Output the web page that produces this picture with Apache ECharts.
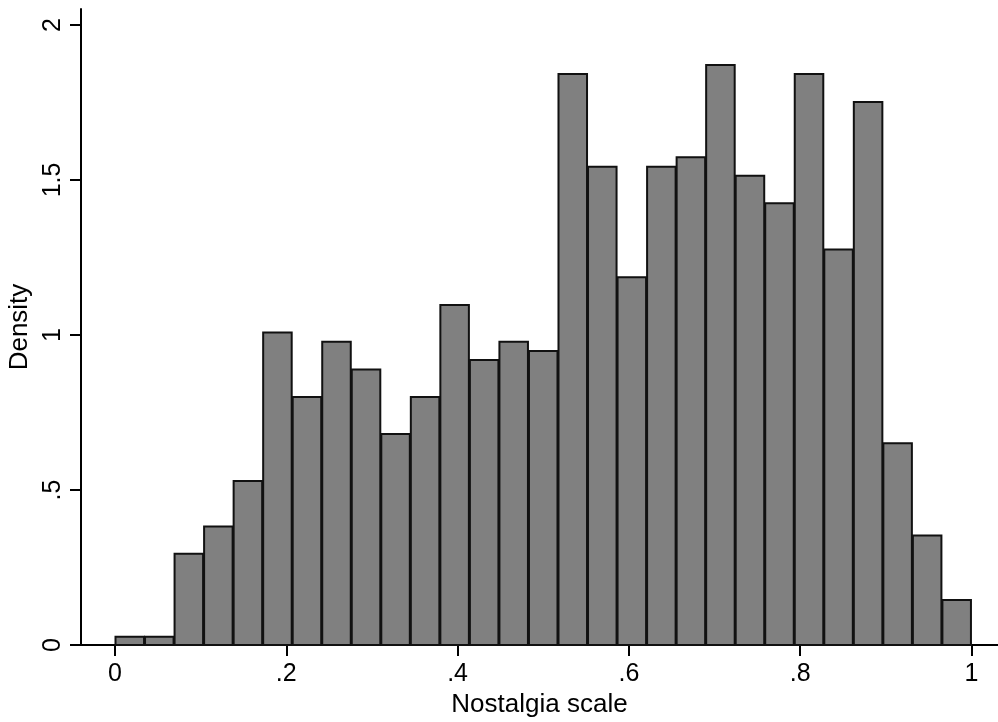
<!DOCTYPE html>
<html>
<head>
<meta charset="utf-8">
<script src="https://cdn.jsdelivr.net/npm/echarts@6/dist/echarts.min.js"></script>
<style>
  html, body { margin: 0; padding: 0; background: #fff; }
  #chart { width: 998px; height: 722px; }
</style>
</head>
<body>
<div id="chart"></div>
<script>
// histogram of the nostalgia scale, 29 equal bins over [0, 1]
const binCount = 29
const densities = [
  0.027, 0.027, 0.294, 0.382, 0.529, 1.008, 0.800, 0.978, 0.889, 0.681,
  0.800, 1.097, 0.919, 0.978, 0.948, 1.842, 1.543, 1.186, 1.543, 1.573,
  1.871, 1.514, 1.425, 1.842, 1.276, 1.752, 0.651, 0.353, 0.145
]
const xTicks = [0, 0.2, 0.4, 0.6, 0.8, 1]
const yTicks = [0, 0.5, 1, 1.5, 2]

const binWidth = 1 / binCount
const bins = densities.map((d, i) => [i * binWidth, (i + 1) * binWidth, d])

// stata style: drop the leading zero
function fmt(v) {
  let s = String(+v.toFixed(2))
  if (s.startsWith('0.')) s = s.slice(1)
  return s
}

const font = 'Liberation Sans, Arial, Helvetica, sans-serif'

const chart = echarts.init(document.getElementById('chart'), null, { renderer: 'canvas' })

chart.setOption({
  animation: false,
  backgroundColor: '#fff',
  grid: {
    left: 81,
    right: 0,
    top: 9,
    bottom: 77,
    containLabel: false,
    outerBoundsMode: 'none'
  },
  xAxis: [
    {
      type: 'value',
      min: -0.0397,
      max: 1.031,
      name: 'Nostalgia scale',
      nameLocation: 'middle',
      nameGap: 44,
      nameTextStyle: { fontFamily: font, fontSize: 26, color: '#000' },
      axisLine: { show: true, onZero: false, lineStyle: { color: '#000', width: 2 } },
      axisTick: { show: true, length: 11, customValues: xTicks, lineStyle: { color: '#000', width: 2 } },
      axisLabel: {
        customValues: xTicks,
        formatter: fmt,
        margin: 17,
        fontFamily: font,
        fontSize: 25,
        color: '#000'
      },
      splitLine: { show: false }
    },
    {
      type: 'value',
      position: 'top',
      min: 0,
      max: 1,
      axisLine: { show: true, lineStyle: { color: '#000', width: 2 } },
      axisTick: { show: false },
      axisLabel: { show: false },
      splitLine: { show: false }
    }
  ],
  yAxis: {
    type: 'value',
    min: 0,
    max: 2.0516,
    name: 'Density',
    nameLocation: 'middle',
    nameGap: 38,
    nameRotate: 90,
    nameTextStyle: { fontFamily: font, fontSize: 26, color: '#000' },
    axisLine: { show: true, onZero: false, lineStyle: { color: '#000', width: 2 } },
    axisTick: { show: true, length: 11, customValues: yTicks, lineStyle: { color: '#000', width: 2 } },
    axisLabel: {
      customValues: yTicks,
      formatter: fmt,
      rotate: 90,
      margin: 15,
      fontFamily: font,
      fontSize: 25,
      color: '#000'
    },
    splitLine: { show: false }
  },
  series: [
    {
      type: 'custom',
      xAxisIndex: 0,
      data: bins,
      encode: { x: [0, 1], y: 2 },
      renderItem(params, api) {
        const topLeft = api.coord([api.value(0), api.value(2)])
        const bottomRight = api.coord([api.value(1), 0])
        return {
          type: 'rect',
          shape: {
            x: topLeft[0] + 0.5,
            y: topLeft[1],
            width: bottomRight[0] - topLeft[0] - 1,
            height: bottomRight[1] - topLeft[1]
          },
          style: { fill: '#808080', stroke: '#111', lineWidth: 2 }
        }
      }
    }
  ]
})
</script>
</body>
</html>
